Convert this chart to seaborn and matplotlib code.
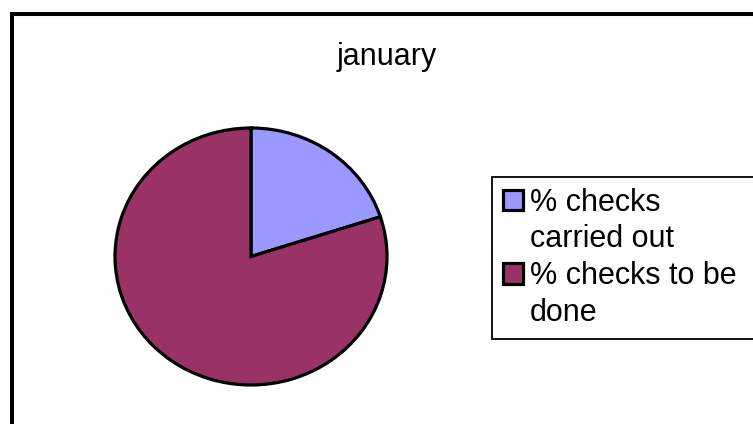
import matplotlib
matplotlib.use('Agg')
import matplotlib.pyplot as plt
import seaborn as sns
from matplotlib.patches import Patch, Rectangle

sns.set_theme(style='white')
plt.rcParams['font.family'] = ['Liberation Sans', 'DejaVu Sans']
plt.rcParams['text.color'] = 'black'

# data
title = 'january'
labels = ['% checks carried out', '% checks to be done']
legend_lines = [['% checks', 'carried out'], ['% checks to be', 'done']]
values = [20, 80]
colors = ['#9999FF', '#993366']

W, H = 753, 424
fig = plt.figure(figsize=(W / 100, H / 100), dpi=100)
fig.patch.set_facecolor('white')

# outer chart frame (runs off the right and bottom edges)
fig.patches.append(Rectangle((11.75 / W, -0.2), 1.2, 1.2 - 14 / H,
                             transform=fig.transFigure, fill=False,
                             edgecolor='black', linewidth=2.9))

fig.text(387 / W, 1 - 57 / H, title, ha='center', va='center',
         fontsize=22, color='black')

# pie area (slightly wider than tall, as in the original)
ax = fig.add_axes([115 / W, (H - 385) / H, 272 / W, 257 / H])
wedges, _ = ax.pie(values, colors=colors, startangle=90, counterclock=False,
                   wedgeprops={'edgecolor': 'black', 'linewidth': 2.3,
                               'clip_on': False})
ax.set_aspect('auto')
ax.set_xlim(-1, 1)
ax.set_ylim(-1, 1)
ax.axis('off')

# legend: handle only on the first line of each label
handles, texts = [], []
for w, lines in zip(wedges, legend_lines):
    handles.append(Patch(facecolor=w.get_facecolor(), edgecolor='black', linewidth=2.3))
    texts.append(lines[0])
    for extra in lines[1:]:
        handles.append(Patch(facecolor='none', edgecolor='none'))
        texts.append(extra)

leg = fig.legend(handles, texts, loc='upper left',
                 bbox_to_anchor=(492 / W, 0, 0.6, 1 - 177 / H),
                 mode='expand', borderaxespad=0, fontsize=22,
                 labelcolor='black',
                 frameon=True, fancybox=False, shadow=False,
                 handlelength=0.65, handleheight=0.65, handletextpad=0.25,
                 borderpad=0.35, labelspacing=0.22)
frame = leg.get_frame()
frame.set_edgecolor('black')
frame.set_linewidth(1.3)
frame.set_facecolor('white')
frame.set_alpha(1)

fig.savefig('out.png', dpi=100)
